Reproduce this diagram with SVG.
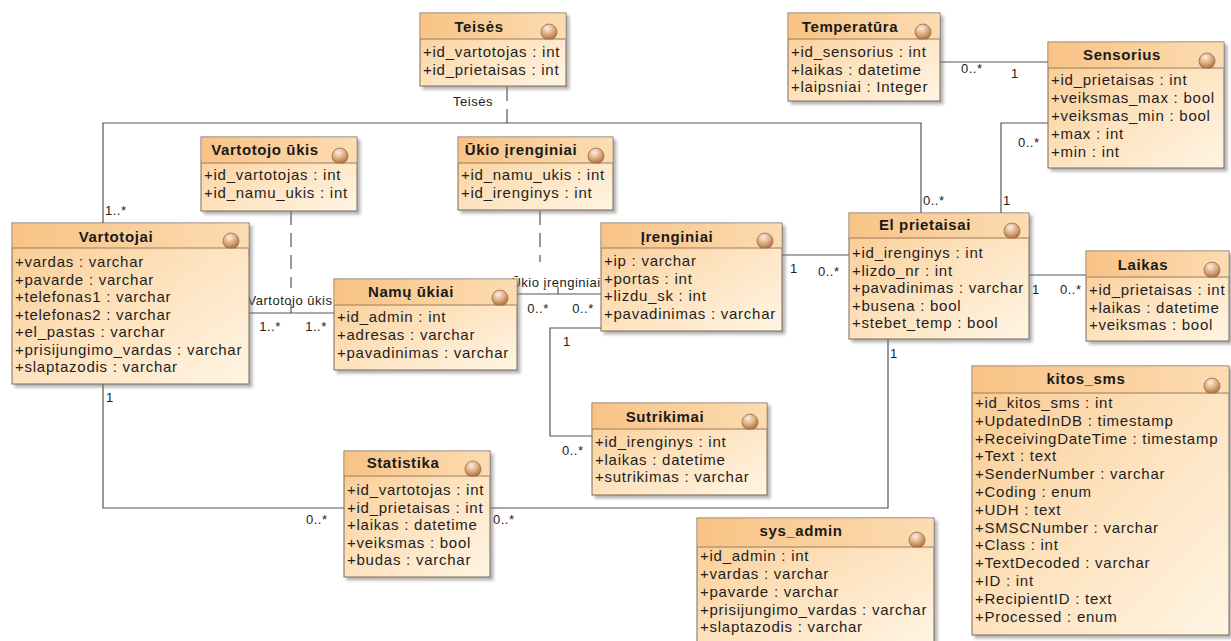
<svg xmlns="http://www.w3.org/2000/svg" xmlns:xlink="http://www.w3.org/1999/xlink" width="1231" height="641" viewBox="0 0 1231 641">
  <defs>
    <linearGradient id="bodyFill" x1="0" y1="0" x2="1" y2="1">
      <stop offset="0" stop-color="#f9c98c"/>
      <stop offset="0.45" stop-color="#fde0ba"/>
      <stop offset="1" stop-color="#fff5e4"/>
    </linearGradient>
    <linearGradient id="headFill" x1="0" y1="0" x2="1" y2="0">
      <stop offset="0" stop-color="#f8c385"/>
      <stop offset="1" stop-color="#fcdcb2"/>
    </linearGradient>
    <radialGradient id="ballFill" cx="0.4" cy="0.3" r="0.75">
      <stop offset="0" stop-color="#fbefe2"/>
      <stop offset="0.55" stop-color="#dcaa7c"/>
      <stop offset="1" stop-color="#a8703f"/>
    </radialGradient>
    <filter id="shadow" x="-5%" y="-5%" width="115%" height="115%">
      <feDropShadow dx="3" dy="3" stdDeviation="1.5" flood-color="#777" flood-opacity="0.55"/>
    </filter>
    <!-- class stereotype icon: a small ball resting on the header rule -->
    <path id="ball" d="M-3.9 0 A8 8 0 1 1 3.9 0 Z" fill="url(#ballFill)" stroke="#9a6a45" stroke-width="0.8"/>
  </defs>
  <style>
    .box { fill: url(#bodyFill); stroke: #7d6b58; stroke-width: 1; filter: url(#shadow); }
    .head { fill: url(#headFill); stroke: none; }
    .rule { stroke: #9c7b5c; stroke-width: 1; }
    .title { font-family: "Liberation Sans", Arial, sans-serif; font-size: 15px; font-weight: bold; letter-spacing: 0.6px; text-anchor: middle; fill: #1a1a1a; }
    .attr { font-family: "Liberation Sans", Arial, sans-serif; font-size: 15px; letter-spacing: 0.75px; fill: #1e1e1e; }
    .conn { stroke: #555; stroke-width: 1.2; fill: none; }
    .dash { stroke: #555; stroke-width: 1.2; fill: none; stroke-dasharray: 14 8; }
    .lbl { font-family: "Liberation Sans", Arial, sans-serif; font-size: 13px; letter-spacing: 0.5px; fill: #222; }
    .mid { text-anchor: middle; }
  </style>

  <!-- associations -->
  <g id="connectors">
    <!-- Vartotojai - El prietaisai (with association class Teisės) -->
    <polyline class="conn" points="103,223 103,123 921,123 921,213"/>
    <line class="dash" x1="507" y1="87" x2="507" y2="123" stroke-dasharray="10 16"/>
    <text class="lbl mid" x="473" y="106">Teisės</text>
    <text class="lbl" x="105" y="215">1..*</text>
    <text class="lbl" x="923" y="205">0..*</text>

    <!-- Vartotojai - Namų ūkiai (association class Vartotojo ūkis) -->
    <line class="conn" x1="249" y1="313" x2="334" y2="313"/>
    <line class="dash" x1="291" y1="211" x2="291" y2="288"/>
    <line class="conn" x1="291" y1="304" x2="291" y2="313"/>
    <text class="lbl mid" x="290" y="305">Vartotojo ūkis</text>
    <text class="lbl mid" x="270" y="331">1..*</text>
    <text class="lbl mid" x="316" y="331">1..*</text>

    <!-- Namų ūkiai - Įrenginiai (association class Ūkio įrenginiai) -->
    <line class="conn" x1="517" y1="294" x2="601" y2="294"/>
    <line class="dash" x1="540" y1="211" x2="540" y2="262"/>
    <line class="conn" x1="558" y1="287" x2="558" y2="294"/>
    <text class="lbl mid" x="556" y="287">Ūkio įrenginiai</text>
    <text class="lbl mid" x="538" y="313">0..*</text>
    <text class="lbl mid" x="583" y="313">0..*</text>

    <!-- Įrenginiai - El prietaisai -->
    <line class="conn" x1="782" y1="255" x2="849" y2="255"/>
    <text class="lbl" x="790" y="273">1</text>
    <text class="lbl" x="818" y="276">0..*</text>

    <!-- Įrenginiai - Sutrikimai -->
    <polyline class="conn" points="601,328 550,328 550,436 592,436"/>
    <text class="lbl" x="563" y="346">1</text>
    <text class="lbl" x="562" y="455">0..*</text>

    <!-- Vartotojai - Statistika -->
    <polyline class="conn" points="103,384 103,508 344,508"/>
    <text class="lbl" x="106" y="402">1</text>
    <text class="lbl" x="306" y="524">0..*</text>

    <!-- Statistika - El prietaisai -->
    <polyline class="conn" points="490,508 888,508 888,339"/>
    <text class="lbl" x="493" y="524">0..*</text>
    <text class="lbl" x="890" y="358">1</text>

    <!-- Temperatūra - Sensorius -->
    <line class="conn" x1="940" y1="62" x2="1048" y2="62"/>
    <text class="lbl" x="961" y="73">0..*</text>
    <text class="lbl" x="1011" y="78">1</text>

    <!-- Sensorius - El prietaisai -->
    <polyline class="conn" points="1048,123 1001,123 1001,213"/>
    <text class="lbl" x="1018" y="147">0..*</text>
    <text class="lbl" x="1003" y="205">1</text>

    <!-- El prietaisai - Laikas -->
    <line class="conn" x1="1029" y1="275" x2="1086" y2="275"/>
    <text class="lbl" x="1032" y="294">1</text>
    <text class="lbl" x="1060" y="294">0..*</text>
  </g>

  <!-- classes -->
  <g id="teises" transform="translate(420,13)">
    <rect class="box" width="146" height="73"/>
    <rect class="head" x="0.5" y="0.5" width="145" height="25.5"/>
    <line class="rule" x1="0" y1="26" x2="146" y2="26"/>
    <use xlink:href="#ball" x="129" y="26"/>
    <text class="title" x="59" y="19">Teisės</text>
    <text class="attr" x="3" y="44">+id_vartotojas : int</text>
    <text class="attr" x="3" y="62">+id_prietaisas : int</text>
  </g>

  <g id="temperatura" transform="translate(788,13)">
    <rect class="box" width="152" height="88"/>
    <rect class="head" x="0.5" y="0.5" width="151" height="25.5"/>
    <line class="rule" x1="0" y1="26" x2="152" y2="26"/>
    <use xlink:href="#ball" x="135" y="26"/>
    <text class="title" x="62" y="19">Temperatūra</text>
    <text class="attr" x="3" y="44">+id_sensorius : int</text>
    <text class="attr" x="3" y="62">+laikas : datetime</text>
    <text class="attr" x="3" y="79">+laipsniai : Integer</text>
  </g>

  <g id="sensorius" transform="translate(1048,42)">
    <rect class="box" width="176" height="126"/>
    <rect class="head" x="0.5" y="0.5" width="175" height="25.5"/>
    <line class="rule" x1="0" y1="26" x2="176" y2="26"/>
    <use xlink:href="#ball" x="159" y="26"/>
    <text class="title" x="74" y="18">Sensorius</text>
    <text class="attr" x="3" y="43">+id_prietaisas : int</text>
    <text class="attr" x="3" y="61">+veiksmas_max : bool</text>
    <text class="attr" x="3" y="79">+veiksmas_min : bool</text>
    <text class="attr" x="3" y="97">+max : int</text>
    <text class="attr" x="3" y="115">+min : int</text>
  </g>

  <g id="vartotojo-ukis" transform="translate(201,137)">
    <rect class="box" width="156" height="74"/>
    <rect class="head" x="0.5" y="0.5" width="155" height="25.5"/>
    <line class="rule" x1="0" y1="26" x2="156" y2="26"/>
    <use xlink:href="#ball" x="139" y="26"/>
    <text class="title" x="64" y="18">Vartotojo ūkis</text>
    <text class="attr" x="3" y="43">+id_vartotojas : int</text>
    <text class="attr" x="3" y="61">+id_namu_ukis : int</text>
  </g>

  <g id="ukio-irenginiai" transform="translate(458,137)">
    <rect class="box" width="155" height="73"/>
    <rect class="head" x="0.5" y="0.5" width="154" height="25.5"/>
    <line class="rule" x1="0" y1="26" x2="155" y2="26"/>
    <use xlink:href="#ball" x="138" y="26"/>
    <text class="title" x="63" y="18">Ūkio įrenginiai</text>
    <text class="attr" x="3" y="43">+id_namu_ukis : int</text>
    <text class="attr" x="3" y="61">+id_irenginys : int</text>
  </g>

  <g id="vartotojai" transform="translate(12,223)">
    <rect class="box" width="237" height="161"/>
    <rect class="head" x="0.5" y="0.5" width="236" height="24.5"/>
    <line class="rule" x1="0" y1="25" x2="237" y2="25"/>
    <use xlink:href="#ball" x="219" y="25"/>
    <text class="title" x="104" y="19">Vartotojai</text>
    <text class="attr" x="3" y="44">+vardas : varchar</text>
    <text class="attr" x="3" y="61.5">+pavarde : varchar</text>
    <text class="attr" x="3" y="79">+telefonas1 : varchar</text>
    <text class="attr" x="3" y="96.5">+telefonas2 : varchar</text>
    <text class="attr" x="3" y="114">+el_pastas : varchar</text>
    <text class="attr" x="3" y="131.5">+prisijungimo_vardas : varchar</text>
    <text class="attr" x="3" y="149">+slaptazodis : varchar</text>
  </g>

  <g id="namu-ukiai" transform="translate(334,279)">
    <rect class="box" width="183" height="91"/>
    <rect class="head" x="0.5" y="0.5" width="182" height="25.5"/>
    <line class="rule" x1="0" y1="26" x2="183" y2="26"/>
    <use xlink:href="#ball" x="166" y="26"/>
    <text class="title" x="77" y="18">Namų ūkiai</text>
    <text class="attr" x="3" y="43">+id_admin : int</text>
    <text class="attr" x="3" y="61">+adresas : varchar</text>
    <text class="attr" x="3" y="79">+pavadinimas : varchar</text>
  </g>

  <g id="irenginiai" transform="translate(601,223)">
    <rect class="box" width="181" height="108"/>
    <rect class="head" x="0.5" y="0.5" width="180" height="24.5"/>
    <line class="rule" x1="0" y1="25" x2="181" y2="25"/>
    <use xlink:href="#ball" x="164" y="25"/>
    <text class="title" x="76" y="19">Įrenginiai</text>
    <text class="attr" x="3" y="43">+ip : varchar</text>
    <text class="attr" x="3" y="60.7">+portas : int</text>
    <text class="attr" x="3" y="78.4">+lizdu_sk : int</text>
    <text class="attr" x="3" y="96">+pavadinimas : varchar</text>
  </g>

  <g id="el-prietaisai" transform="translate(849,213)">
    <rect class="box" width="180" height="126"/>
    <rect class="head" x="0.5" y="0.5" width="179" height="24.5"/>
    <line class="rule" x1="0" y1="25" x2="180" y2="25"/>
    <use xlink:href="#ball" x="163" y="25"/>
    <text class="title" x="76" y="17">El prietaisai</text>
    <text class="attr" x="3" y="45">+id_irenginys : int</text>
    <text class="attr" x="3" y="62.6">+lizdo_nr : int</text>
    <text class="attr" x="3" y="80.2">+pavadinimas : varchar</text>
    <text class="attr" x="3" y="97.8">+busena : bool</text>
    <text class="attr" x="3" y="115.4">+stebet_temp : bool</text>
  </g>

  <g id="laikas" transform="translate(1086,251)">
    <rect class="box" width="143" height="90"/>
    <rect class="head" x="0.5" y="0.5" width="142" height="25.5"/>
    <line class="rule" x1="0" y1="26" x2="143" y2="26"/>
    <use xlink:href="#ball" x="126" y="26"/>
    <text class="title" x="57" y="19">Laikas</text>
    <text class="attr" x="3" y="44">+id_prietaisas : int</text>
    <text class="attr" x="3" y="61.5">+laikas : datetime</text>
    <text class="attr" x="3" y="79">+veiksmas : bool</text>
  </g>

  <g id="sutrikimai" transform="translate(592,403)">
    <rect class="box" width="175" height="92"/>
    <rect class="head" x="0.5" y="0.5" width="174" height="25.5"/>
    <line class="rule" x1="0" y1="26" x2="175" y2="26"/>
    <use xlink:href="#ball" x="158" y="26"/>
    <text class="title" x="73" y="19">Sutrikimai</text>
    <text class="attr" x="3" y="44">+id_irenginys : int</text>
    <text class="attr" x="3" y="62">+laikas : datetime</text>
    <text class="attr" x="3" y="79">+sutrikimas : varchar</text>
  </g>

  <g id="statistika" transform="translate(344,451)">
    <rect class="box" width="146" height="126"/>
    <rect class="head" x="0.5" y="0.5" width="145" height="24.5"/>
    <line class="rule" x1="0" y1="25" x2="146" y2="25"/>
    <use xlink:href="#ball" x="129" y="25"/>
    <text class="title" x="59" y="17">Statistika</text>
    <text class="attr" x="3" y="44">+id_vartotojas : int</text>
    <text class="attr" x="3" y="61.6">+id_prietaisas : int</text>
    <text class="attr" x="3" y="79.2">+laikas : datetime</text>
    <text class="attr" x="3" y="96.8">+veiksmas : bool</text>
    <text class="attr" x="3" y="114.4">+budas : varchar</text>
  </g>

  <g id="sys-admin" transform="translate(697,518)">
    <rect class="box" width="237" height="128"/>
    <rect class="head" x="0.5" y="0.5" width="236" height="28.5"/>
    <line class="rule" x1="0" y1="29" x2="237" y2="29"/>
    <use xlink:href="#ball" x="220" y="29"/>
    <text class="title" x="104" y="18">sys_admin</text>
    <text class="attr" x="3" y="43">+id_admin : int</text>
    <text class="attr" x="3" y="61">+vardas : varchar</text>
    <text class="attr" x="3" y="79">+pavarde : varchar</text>
    <text class="attr" x="3" y="97">+prisijungimo_vardas : varchar</text>
    <text class="attr" x="3" y="114">+slaptazodis : varchar</text>
  </g>

  <g id="kitos-sms" transform="translate(972,366)">
    <rect class="box" width="257" height="269"/>
    <rect class="head" x="0.5" y="0.5" width="256" height="26.5"/>
    <line class="rule" x1="0" y1="27" x2="257" y2="27"/>
    <use xlink:href="#ball" x="240" y="27"/>
    <text class="title" x="114" y="18">kitos_sms</text>
    <text class="attr" x="3" y="42">+id_kitos_sms : int</text>
    <text class="attr" x="3" y="59.8">+UpdatedInDB : timestamp</text>
    <text class="attr" x="3" y="77.6">+ReceivingDateTime : timestamp</text>
    <text class="attr" x="3" y="95.4">+Text : text</text>
    <text class="attr" x="3" y="113.2">+SenderNumber : varchar</text>
    <text class="attr" x="3" y="131">+Coding : enum</text>
    <text class="attr" x="3" y="148.8">+UDH : text</text>
    <text class="attr" x="3" y="166.6">+SMSCNumber : varchar</text>
    <text class="attr" x="3" y="184.4">+Class : int</text>
    <text class="attr" x="3" y="202.2">+TextDecoded : varchar</text>
    <text class="attr" x="3" y="220">+ID : int</text>
    <text class="attr" x="3" y="237.8">+RecipientID : text</text>
    <text class="attr" x="3" y="255.6">+Processed : enum</text>
  </g>
</svg>
